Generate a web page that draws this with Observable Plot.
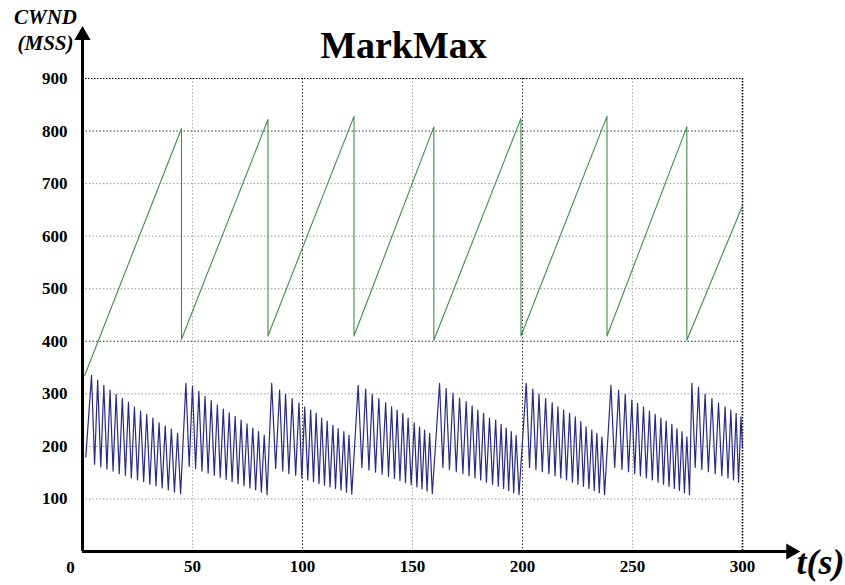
<!DOCTYPE html>
<html><head><meta charset="utf-8">
<script src="https://cdn.jsdelivr.net/npm/d3@7"></script>
<script src="https://cdn.jsdelivr.net/npm/@observablehq/plot@0.6"></script>
<style>body{margin:0;background:#fff}</style>
</head><body><div id="chart"></div>
<script>
const title = "MarkMax";
const yLabel = ["CWND", "(MSS)"];
const xLabel = "t(s)";
const originLabel = 0;
const xTicks = [50, 100, 150, 200, 250, 300];
const yTicks = [100, 200, 300, 400, 500, 600, 700, 800, 900];
const xGridLight = [50, 150, 250];
const xGridDark = [100, 200];
const yGridLight = [100, 200, 300, 500, 600, 700];
const yGridDark = [400, 800];

// Green flow CWND: [t, cwnd]
const green = [[1,335],[45.0,805],[45.0,404],[84.3,822],[84.3,410],[123.4,828],[123.4,410],[159.7,808],[159.7,402],[199.3,824],[199.3,410],[238.4,828],[238.4,410],[274.7,808],[274.7,402],[300,658]];

// Blue flow CWND, one array per congestion cycle: [t, cwnd]
const blueA = [[1.5,180],[4.1,335],[5.5,166],[6.9,326],[8.3,161],[9.7,316],[11.1,157],[12.5,307],[13.9,153],[15.3,299],[16.7,148],[18.1,291],[19.5,145],[20.9,284],[22.2,140],[23.6,275],[25.0,136],[26.4,267],[27.8,133],[29.2,261],[30.6,128],[32.0,254],[33.4,125],[34.8,245],[36.2,121],[37.6,239],[39.0,117],[40.4,233],[41.8,113],[43.2,225],[44.6,110]];
const blueB = [[47.0,320],[48.5,162],[50.0,315],[51.4,158],[52.9,305],[54.3,153],[55.7,295],[57.1,149],[58.5,287],[59.9,145],[61.3,279],[62.6,141],[64.0,271],[65.3,137],[66.7,264],[68.0,133],[69.4,257],[70.7,129],[72.1,250],[73.4,125],[74.8,243],[76.1,121],[77.4,235],[78.7,117],[80.0,228],[81.3,113],[82.6,221],[83.9,108]];
const blueC = [[86.0,320],[87.8,158],[89.6,307],[91.0,153],[92.3,299],[93.8,148],[95.3,291],[96.9,145],[98.4,283],[99.7,140],[101.0,275],[102.4,136],[103.7,269],[105.0,133],[106.2,263],[107.5,129],[108.7,254],[110.0,126],[111.2,248],[112.5,123],[113.8,240],[115.0,120],[116.2,234],[117.5,117],[118.8,228],[120.0,113],[121.1,221],[122.4,109]];
const blueD = [[125.3,316],[127.0,160],[128.7,309],[130.2,155],[131.7,299],[133.2,151],[134.7,291],[136.2,147],[137.8,283],[139.1,143],[140.5,275],[141.8,139],[143.0,269],[144.3,135],[145.6,263],[146.8,131],[148.0,254],[149.4,127],[150.8,245],[152.0,123],[153.2,237],[154.3,119],[155.5,231],[156.6,115],[157.8,225],[159.0,110]];
const blueE = [[162.3,320],[163.8,160],[165.3,310],[166.8,156],[168.4,301],[169.9,152],[171.4,292],[172.9,148],[174.4,285],[175.7,144],[177.1,277],[178.4,140],[179.7,269],[181.0,136],[182.3,263],[183.6,132],[185.0,254],[186.4,128],[187.8,250],[189.0,124],[190.3,242],[191.4,120],[192.6,235],[193.7,116],[194.9,228],[196.0,112],[197.1,221],[198.4,108]];
const blueF = [[201.7,320],[203.2,160],[204.7,309],[206.1,156],[207.5,299],[209.0,152],[210.5,291],[212.0,148],[213.5,283],[214.8,144],[216.1,275],[217.4,140],[218.7,269],[220.0,136],[221.4,263],[222.7,132],[224.0,256],[225.2,128],[226.5,247],[227.7,124],[228.9,237],[230.2,120],[231.5,231],[232.6,116],[233.8,225],[234.9,112],[236.1,218],[237.3,108]];
const blueG = [[240.2,316],[241.9,160],[243.7,307],[245.2,156],[246.7,299],[248.2,152],[249.7,288],[251.0,148],[252.3,282],[253.6,144],[255.0,275],[256.3,140],[257.7,267],[259.0,136],[260.3,261],[261.6,132],[262.9,254],[264.1,128],[265.3,248],[266.6,124],[267.9,242],[269.0,120],[270.2,234],[271.3,116],[272.5,228],[273.6,112],[274.7,218],[275.9,108]];
const blueH = [[277.0,320],[278.5,160],[280.0,313],[281.5,156],[283.0,299],[284.5,152],[286.1,291],[287.6,148],[289.1,283],[290.6,144],[292.1,275],[293.4,140],[294.7,269],[295.9,136],[297.1,263],[298.2,132],[299.3,256],[300,200]];

const toRows = arr => arr.map(([t, v]) => ({t, v}));
const greenRows = toRows(green);
const blueRows = toRows([...blueA, ...blueB, ...blueC, ...blueD, ...blueE, ...blueF, ...blueG, ...blueH]);

const serif = "'Liberation Serif', 'Times New Roman', serif";

const chart = Plot.plot({
  width: 845,
  height: 585,
  marginLeft: 82,
  marginRight: 103,
  marginTop: 78,
  marginBottom: 34,
  style: {fontFamily: serif, fontSize: "17px", fontWeight: "bold", background: "#fff", color: "#000", overflow: "visible"},
  x: {domain: [0, 300], label: null},
  y: {domain: [0, 900], label: null},
  marks: [
    Plot.ruleY(yGridLight, {stroke: "#9a9a9a", strokeDasharray: "1.5,2", strokeWidth: 1}),
    Plot.ruleY(yGridDark, {stroke: "#333", strokeDasharray: "1.5,2", strokeWidth: 1}),
    Plot.ruleX(xGridLight, {stroke: "#aaa", strokeDasharray: "1.5,2", strokeWidth: 1}),
    Plot.ruleX(xGridDark, {stroke: "#333", strokeDasharray: "1.5,2", strokeWidth: 1}),
    Plot.ruleY([900], {stroke: "#000", strokeDasharray: "1.5,1.5", strokeWidth: 1.2}),
    Plot.ruleX([300], {stroke: "#000", strokeDasharray: "1.5,1.5", strokeWidth: 1.6}),
    Plot.line(greenRows, {x: "t", y: "v", stroke: "#3f8f48", strokeWidth: 1.1}),
    Plot.line(blueRows, {x: "t", y: "v", stroke: "#2a2a82", strokeWidth: 1.2}),
    Plot.axisX({ticks: xTicks, tickSize: 0, tickPadding: 8, fontSize: 17, fontWeight: "bold", fontFamily: serif}),
    Plot.axisY({ticks: yTicks, tickSize: 0, tickPadding: 15, fontSize: 17, fontWeight: "bold", fontFamily: serif}),
    Plot.text([originLabel], {x: d => d, y: d => d, text: d => String(d), dx: -12, dy: 16, fontSize: 17, fontWeight: "bold"}),
    // axis lines with arrowheads
    Plot.ruleX([0], {y1: 0, y2: 985, stroke: "#000", strokeWidth: 3}),
    Plot.ruleY([0], {x1: 0, x2: 321, stroke: "#000", strokeWidth: 3}),
    Plot.dot([0], {x: d => d, y: () => 982, symbol: "triangle", r: 6, fill: "#000", stroke: null}),
    Plot.dot([0], {x: () => 322, y: d => d, symbol: "triangle", r: 6, fill: "#000", stroke: null, rotate: 90}),
    Plot.text([title], {text: d => d, frameAnchor: "top", dx: -9, dy: -47, fontSize: 38, fontWeight: "bold", fill: "#000"}),
    Plot.text([yLabel.join("\n")], {text: d => d, frameAnchor: "top-left", dx: -37, dy: -72, fontSize: 21, fontWeight: "bold", fontStyle: "italic", lineHeight: 1.2, textAnchor: "middle", fill: "#000"}),
    Plot.text([xLabel], {text: d => d, frameAnchor: "bottom-right", dx: 54, dy: 22, textAnchor: "start", fontSize: 36, fontWeight: "bold", fontStyle: "italic", fill: "#000"})
  ]
});
document.getElementById("chart").appendChild(chart);
</script>
</body></html>
